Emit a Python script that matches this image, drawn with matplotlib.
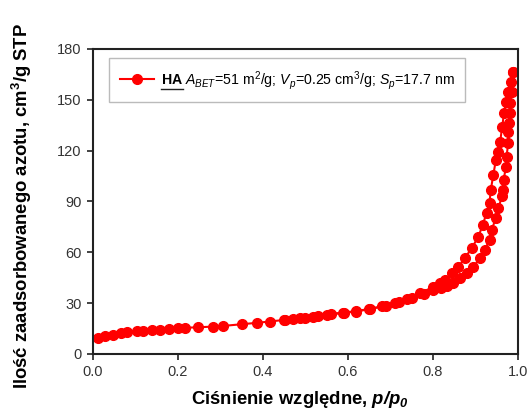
import matplotlib
matplotlib.use("Agg")
import matplotlib.pyplot as plt
from matplotlib.lines import Line2D

plt.rcParams['font.family'] = ['Liberation Sans', 'DejaVu Sans']
plt.rcParams['mathtext.fontset'] = 'custom'
plt.rcParams['mathtext.rm'] = 'Liberation Sans'
plt.rcParams['mathtext.it'] = 'Liberation Sans:italic'
plt.rcParams['mathtext.bf'] = 'Liberation Sans:bold'
plt.rcParams['mathtext.bfit'] = 'Liberation Sans:bold:italic'

# Adsorption branch (p/p0, volume cm3/g STP)
p_ads = [0.012, 0.028, 0.048, 0.067, 0.079, 0.103, 0.118, 0.138, 0.158, 0.180,
         0.200, 0.216, 0.248, 0.283, 0.307, 0.350, 0.385, 0.416, 0.452, 0.487,
         0.518, 0.550, 0.589, 0.620, 0.652, 0.690, 0.720, 0.750, 0.780, 0.800,
         0.820, 0.832, 0.848, 0.864, 0.879, 0.895, 0.911, 0.922, 0.933, 0.938,
         0.948, 0.954, 0.962, 0.965, 0.966, 0.972, 0.973, 0.977, 0.977, 0.979,
         0.981, 0.981, 0.985, 0.989]
v_ads = [9.3, 10.6, 11.4, 12.4, 12.8, 13.4, 13.6, 14.0, 14.2, 14.8,
         15.2, 15.4, 15.7, 16.1, 16.5, 17.5, 18.3, 19.1, 20.1, 21.0,
         21.8, 23.0, 24.2, 25.0, 26.5, 28.5, 30.5, 33.0, 35.5, 37.5,
         39.0, 40.0, 41.7, 44.6, 47.6, 51.5, 56.5, 61.4, 67.3, 73.2,
         80.1, 86.0, 92.9, 96.8, 102.7, 110.5, 116.4, 124.3, 131.2, 136.0,
         142.0, 148.0, 154.8, 166.6]

# Desorption branch
p_des = [0.989, 0.983, 0.977, 0.972, 0.967, 0.963, 0.958, 0.954, 0.948, 0.942,
         0.936, 0.933, 0.926, 0.917, 0.907, 0.891, 0.875, 0.860, 0.844, 0.828,
         0.816, 0.800, 0.770, 0.740, 0.710, 0.680, 0.650, 0.620, 0.590, 0.560,
         0.530, 0.500, 0.470, 0.450]
v_des = [166.6, 160.7, 154.8, 148.9, 142.0, 134.2, 125.3, 119.4, 114.5, 105.7,
         96.8, 89.0, 83.0, 76.2, 69.2, 62.4, 56.5, 51.5, 47.6, 43.7,
         41.7, 39.5, 35.8, 32.5, 30.0, 28.0, 26.5, 25.3, 24.4, 23.6,
         22.5, 21.4, 20.6, 20.0]

x_ticks = [0.0, 0.2, 0.4, 0.6, 0.8, 1.0]
y_ticks = [0, 30, 60, 90, 120, 150, 180]

red = '#ff0000'
ms = 7

fig = plt.figure(figsize=(5.31, 4.11), dpi=100)
ax = fig.add_axes([0.175, 0.139, 0.8005, 0.742])

ax.plot(p_ads, v_ads, '-o', color=red, ms=ms, lw=1.5, mec=red)
ax.plot(p_des, v_des, '-o', color=red, ms=ms, lw=1.5, mec=red)

ax.set_xlim(0, 1.0)
ax.set_ylim(0, 180)
ax.set_xticks(x_ticks)
ax.set_xticklabels([f"{t:.1f}" for t in x_ticks])
ax.set_yticks(y_ticks)
for s in ax.spines.values():
    s.set_linewidth(1.5)
    s.set_color('#222222')
ax.tick_params(direction='out', length=4, width=1.2, labelsize=10.5,
               colors='#222222', labelcolor='#333333', pad=4)

ax.set_xlabel(r'Ciśnienie względne, $\mathbfit{p/p_0}$', fontsize=13.3,
              fontweight='bold')
ax.xaxis.set_label_coords(0.487, -0.114)
ax.set_ylabel(r'Ilość zaadsorbowanego azotu, cm$^\mathbf{3}$/g STP',
              fontsize=13.3, fontweight='bold')
ax.yaxis.set_label_coords(-0.139, 0.485)

label = (r'$\mathbf{HA}$ $A_{BET}$=51 m$^2$/g; $V_p$=0.25 cm$^3$/g; '
         r'$S_p$=17.7 nm')
handle = Line2D([], [], color=red, marker='o', ms=ms, lw=1.5)
leg = ax.legend([handle], [label], loc='upper left',
                bbox_to_anchor=(0.038, 0.970), fontsize=10.2, frameon=True,
                fancybox=False, edgecolor='#bbbbbb', framealpha=1,
                borderpad=0.75, handlelength=2.4, handletextpad=0.5,
                borderaxespad=0)
leg.get_frame().set_linewidth(1.0)

# underline "HA" at the start of the legend text, just below its baseline
fig.canvas.draw()
renderer = fig.canvas.get_renderer()
txt = leg.get_texts()[0]
bb = txt.get_window_extent(renderer)
tmp = fig.text(0, 0, r'$\mathbf{HA}$', fontsize=10.2)
wb = tmp.get_window_extent(renderer)
tmp.remove()
tmp_full = fig.text(0, 0, label, fontsize=10.2)
fb = tmp_full.get_window_extent(renderer)
tmp_full.remove()
# distance from the bottom of the full label to the bottom of "HA"
baseline = bb.y0 + (wb.y0 - fb.y0) - 1.5
fig.add_artist(Line2D([bb.x0 / fig.bbox.width, (bb.x0 + wb.width) / fig.bbox.width],
                      [baseline / fig.bbox.height, baseline / fig.bbox.height],
                      color='#222222', lw=1.0, transform=fig.transFigure))

fig.savefig('out.png', dpi=100)
